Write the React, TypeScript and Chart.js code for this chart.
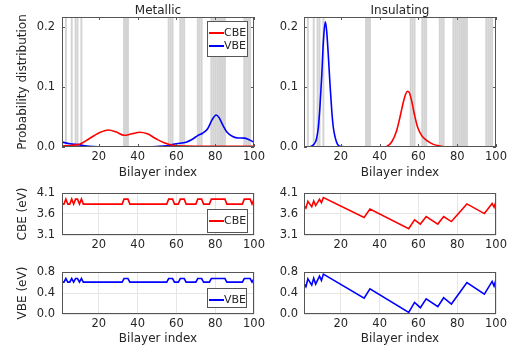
import React, { useEffect, useRef } from 'react';
import { Chart, registerables } from 'chart.js';

Chart.register(...registerables);

const FONT_FAMILY = '"DejaVu Sans", Verdana, sans-serif';
const TEXT = '#262626';
const RED = '#ff0000';
const BLUE = '#0000ff';

// ---------- data ----------
const layerCount = 100;
const xTicks = [20, 40, 60, 80, 100];
const probTicks = [0, 0.1, 0.2];
const cbeTicks = [3.1, 3.6, 4.1];
const vbeTicks = [0.0, 0.4, 0.8];

// bilayers shaded grey (barrier layers)
const barrierLayers = [3, 6, 8, 9, 11, 33, 34, 35, 56, 57, 58, 62, 63, 64, 71, 72, 73, 78, 79, 80, 81, 82, 83, 84, 85, 95, 96, 97, 98, 100];

// Metallic: probability distributions
const metCbeProbX = [1, 5, 10, 15, 20, 25, 29, 33, 37, 41, 45, 49.5, 54, 58, 65, 75, 90, 100];
const metCbeProbY = [0.0016, 0.0025, 0.0045, 0.0137, 0.0235, 0.0285, 0.025, 0.0195, 0.022, 0.0245, 0.022, 0.0137, 0.0066, 0.003, 0.0016, 0.001, 0.001, 0.001];
const metVbeProbX = [1, 5, 10, 15, 20, 30, 45, 50, 55, 60, 65, 68, 71, 73.5, 76, 78.5, 80.5, 82, 84, 86, 89, 92, 95, 97.5, 100];
const metVbeProbY = [0.0082, 0.0055, 0.0035, 0.001, 0.0003, 0.0001, 0.0002, 0.0008, 0.002, 0.0055, 0.008, 0.0125, 0.019, 0.023, 0.03, 0.046, 0.0535, 0.049, 0.036, 0.025, 0.0175, 0.015, 0.0148, 0.012, 0.008];

// Insulating: probability distributions
const insVbeProbX = [1, 4, 6, 7.4, 8.4, 9.2, 10.1, 11, 12, 12.7, 13.5, 14.4, 15.3, 16.1, 17, 18.3, 20, 25, 100];
const insVbeProbY = [0, 0.0003, 0.004, 0.013, 0.033, 0.066, 0.116, 0.177, 0.209, 0.193, 0.155, 0.105, 0.061, 0.033, 0.017, 0.0044, 0.0006, 0, 0];
const insCbeProbX = [1, 40, 43.6, 46.2, 48.8, 50.5, 52.2, 53.4, 54.4, 55.3, 56.5, 57.9, 59.6, 61.7, 64.2, 67.7, 71, 75, 100];
const insCbeProbY = [0, 0, 0.001, 0.0083, 0.0276, 0.05, 0.0746, 0.088, 0.093, 0.091, 0.077, 0.055, 0.033, 0.019, 0.011, 0.0044, 0.0017, 0.0002, 0];

// Metallic: band edge levels (eV)
const metCbeLow = 3.835;
const metCbeHigh = 3.955;
const metVbeLow = 0.607;
const metVbeHigh = 0.676;

// Insulating: band edges at breakpoints (eV)
const insX = [1, 2, 3, 5, 6, 7, 9, 10, 11, 32, 35, 55, 58, 61, 64, 70, 73, 77, 85, 94, 98, 99, 100];
const insCbe = [3.8, 3.74, 3.9, 3.77, 3.91, 3.8, 3.95, 3.87, 3.99, 3.52, 3.72, 3.25, 3.46, 3.36, 3.54, 3.36, 3.54, 3.42, 3.84, 3.61, 3.85, 3.76, 3.9];
const insVbe = [0.58, 0.52, 0.67, 0.55, 0.68, 0.57, 0.72, 0.64, 0.76, 0.3, 0.48, 0.03, 0.22, 0.12, 0.29, 0.14, 0.31, 0.19, 0.6, 0.38, 0.62, 0.53, 0.66];

// ---------- helpers ----------
const zip = (xs: number[], ys: number[]) => xs.map((x, i) => ({ x, y: ys[i] }));
const layers = Array.from({ length: layerCount }, (_, i) => i + 1);
const stepSeries = (low: number, high: number) =>
  layers.map((k) => ({ x: k, y: barrierLayers.includes(k) ? high : low }));

const bandsPlugin = {
  id: 'bands',
  beforeDatasetsDraw(chart: any, _args: any, opts: any) {
    if (!opts || !opts.show) return;
    const { ctx, chartArea, scales } = chart;
    const { top, bottom, left, right } = chartArea;
    ctx.save();
    ctx.beginPath();
    ctx.rect(left, top, right - left, bottom - top);
    ctx.clip();
    ctx.fillStyle = '#d3d3d3';
    for (const k of barrierLayers) {
      const x0 = scales.x.getPixelForValue(k - 0.5);
      const x1 = scales.x.getPixelForValue(k + 0.5);
      ctx.fillRect(x0, top, x1 - x0, bottom - top);
    }
    ctx.restore();
  },
};

const framePlugin = {
  id: 'frame',
  afterDatasetsDraw(chart: any, _args: any, opts: any) {
    const { ctx, chartArea, scales } = chart;
    const { top, bottom, left, right } = chartArea;
    ctx.save();
    ctx.strokeStyle = '#555';
    ctx.lineWidth = 1;
    ctx.strokeRect(Math.round(left) + 0.5, Math.round(top) + 0.5, Math.round(right - left) - 1, Math.round(bottom - top) - 1);
    if (opts && opts.innerTicks) {
      ctx.beginPath();
      for (const v of xTicks) {
        const px = Math.round(scales.x.getPixelForValue(v)) + 0.5;
        ctx.moveTo(px, top);
        ctx.lineTo(px, top + 3);
        ctx.moveTo(px, bottom);
        ctx.lineTo(px, bottom - 3);
      }
      for (const t of scales.y.ticks) {
        const py = Math.round(scales.y.getPixelForValue(t.value)) + 0.5;
        ctx.moveTo(left, py);
        ctx.lineTo(left + 3, py);
        ctx.moveTo(right, py);
        ctx.lineTo(right - 3, py);
      }
      ctx.stroke();
    }
    ctx.restore();
  },
};

type Cfg = {
  datasets: any[];
  yMin: number;
  yMax: number;
  yTicks: number[];
  yTitle?: string;
  yAxisWidth: number;
  yTickPad: number;
  xAxisHeight: number;
  xTitle: boolean;
  xTitlePadBottom?: number;
  padTop: number;
  padRight: number;
  bands: boolean;
  grid: boolean;
};

function makeConfig(c: Cfg): any {
  const tickFont = { family: FONT_FAMILY, size: 11.5 };
  const titleFont = { family: FONT_FAMILY, size: 12 };
  return {
    type: 'line',
    data: { datasets: c.datasets },
    options: {
      animation: false,
      responsive: false,
      devicePixelRatio: 1,
      layout: { padding: { top: c.padTop, right: c.padRight, bottom: 0, left: 0 } },
      plugins: {
        legend: { display: false },
        tooltip: { enabled: false },
        bands: { show: c.bands },
        frame: { innerTicks: c.bands },
      },
      elements: { point: { radius: 0 } },
      scales: {
        x: {
          type: 'linear',
          min: 1,
          max: layerCount,
          afterBuildTicks: (s: any) => {
            s.ticks = xTicks.map((v) => ({ value: v }));
          },
          afterFit: (s: any) => {
            s.height = c.xAxisHeight;
          },
          grid: { display: c.grid, color: '#e6e6e6', drawTicks: false },
          border: { display: false },
          ticks: {
            padding: 3,
            color: TEXT,
            font: tickFont,
            maxRotation: 0,
            autoSkip: false,
            callback: (v: any) => String(v),
          },
          title: {
            display: c.xTitle,
            text: 'Bilayer index',
            color: TEXT,
            font: titleFont,
            padding: { top: 0, bottom: c.xTitlePadBottom ?? 0 },
          },
        },
        y: {
          type: 'linear',
          min: c.yMin,
          max: c.yMax,
          afterBuildTicks: (s: any) => {
            s.ticks = c.yTicks.map((v) => ({ value: v }));
          },
          afterFit: (s: any) => {
            s.width = c.yAxisWidth;
          },
          grid: { display: c.grid, color: '#e6e6e6', drawTicks: false },
          border: { display: false },
          ticks: {
            padding: c.yTickPad,
            color: TEXT,
            font: tickFont,
            callback: (v: any) => Number(v).toFixed(1),
          },
          title: {
            display: !!c.yTitle,
            text: c.yTitle || '',
            color: TEXT,
            font: titleFont,
            padding: { top: 16, bottom: 0 },
          },
        },
      },
    },
    plugins: [bandsPlugin, framePlugin],
  };
}

function ChartPanel(props: { left: number; top: number; width: number; height: number; config: any }) {
  const ref = useRef<HTMLCanvasElement>(null);
  useEffect(() => {
    const chart = new Chart(ref.current as HTMLCanvasElement, props.config);
    return () => chart.destroy();
  }, []);
  return (
    <canvas
      ref={ref}
      width={props.width}
      height={props.height}
      style={{ position: 'absolute', left: props.left, top: props.top, width: props.width, height: props.height }}
    />
  );
}

function LegendBox(props: { left: number; top: number; width: number; height: number; items: { label: string; color: string; y: number }[] }) {
  return (
    <>
      <div
        style={{
          position: 'absolute',
          left: props.left,
          top: props.top,
          width: props.width,
          height: props.height,
          boxSizing: 'border-box',
          border: '1px solid #555',
          background: '#fff',
        }}
      />
      {props.items.map((it) => (
        <React.Fragment key={it.label}>
          <div style={{ position: 'absolute', left: props.left + 2, top: it.y - 1, width: 15, height: 2.4, background: it.color }} />
          <div
            style={{
              position: 'absolute',
              left: props.left + 17,
              top: it.y - 7,
              height: 14,
              lineHeight: '14px',
              fontSize: 11,
              fontFamily: FONT_FAMILY,
              color: TEXT,
              whiteSpace: 'nowrap',
            }}
          >
            {it.label}
          </div>
        </React.Fragment>
      ))}
    </>
  );
}

const lineDs = (label: string, data: any[], color: string, smooth: boolean) => ({
  label,
  data,
  borderColor: color,
  backgroundColor: color,
  borderWidth: 1.6,
  pointRadius: 0,
  fill: false,
  cubicInterpolationMode: smooth ? 'monotone' : 'default',
  tension: 0,
});

export default function App() {
  const leftCol = { left: 0, width: 270, yAxisWidth: 62, padRight: 16, yTickPad: 7 };
  const rightCol = { left: 270, width: 245, yAxisWidth: 34, padRight: 19, yTickPad: 6 };

  const row1 = { top: 0, height: 180, padTop: 17, xAxisHeight: 33 };
  const row2 = { top: 179, height: 73, padTop: 14, xAxisHeight: 17 };
  const row3 = { top: 256, height: 95, padTop: 16, xAxisHeight: 37 };

  const panels = [
    {
      col: leftCol,
      row: row1,
      cfg: {
        datasets: [
          lineDs('CBE', zip(metCbeProbX, metCbeProbY), RED, true),
          lineDs('VBE', zip(metVbeProbX, metVbeProbY), BLUE, true),
        ],
        yMin: 0, yMax: 0.217, yTicks: probTicks, yTitle: 'Probability distribution',
        xTitle: true, xTitlePadBottom: 0, bands: true, grid: false,
      },
    },
    {
      col: rightCol,
      row: row1,
      cfg: {
        datasets: [
          lineDs('CBE', zip(insCbeProbX, insCbeProbY), RED, true),
          lineDs('VBE', zip(insVbeProbX, insVbeProbY), BLUE, true),
        ],
        yMin: 0, yMax: 0.217, yTicks: probTicks,
        xTitle: true, xTitlePadBottom: 0, bands: true, grid: false,
      },
    },
    {
      col: leftCol,
      row: row2,
      cfg: {
        datasets: [lineDs('CBE', stepSeries(metCbeLow, metCbeHigh), RED, false)],
        yMin: 3.1, yMax: 4.1, yTicks: cbeTicks, yTitle: 'CBE (eV)',
        xTitle: false, bands: false, grid: true,
      },
    },
    {
      col: rightCol,
      row: row2,
      cfg: {
        datasets: [lineDs('CBE', zip(insX, insCbe), RED, false)],
        yMin: 3.1, yMax: 4.1, yTicks: cbeTicks,
        xTitle: false, bands: false, grid: true,
      },
    },
    {
      col: leftCol,
      row: row3,
      cfg: {
        datasets: [lineDs('VBE', stepSeries(metVbeLow, metVbeHigh), BLUE, false)],
        yMin: 0, yMax: 0.8, yTicks: vbeTicks, yTitle: 'VBE (eV)',
        xTitle: true, xTitlePadBottom: 5, bands: false, grid: true,
      },
    },
    {
      col: rightCol,
      row: row3,
      cfg: {
        datasets: [lineDs('VBE', zip(insX, insVbe), BLUE, false)],
        yMin: 0, yMax: 0.8, yTicks: vbeTicks,
        xTitle: true, xTitlePadBottom: 5, bands: false, grid: true,
      },
    },
  ];

  return (
    <div
      style={{
        position: 'fixed',
        left: 0,
        top: 0,
        width: 515,
        height: 351,
        background: '#fff',
        overflow: 'hidden',
        fontFamily: FONT_FAMILY,
      }}
    >
      {panels.map((p, i) => (
        <ChartPanel
          key={i}
          left={p.col.left}
          top={p.row.top}
          width={p.col.width}
          height={p.row.height}
          config={makeConfig({
            ...(p.cfg as any),
            yAxisWidth: p.col.yAxisWidth,
            yTickPad: p.col.yTickPad,
            padRight: p.col.padRight,
            padTop: p.row.padTop,
            xAxisHeight: p.row.xAxisHeight,
          })}
        />
      ))}
      <div style={{ position: 'absolute', left: 58, width: 200, top: 3, textAlign: 'center', fontSize: 12, lineHeight: '14px', color: TEXT }}>
        Metallic
      </div>
      <div style={{ position: 'absolute', left: 300, width: 200, top: 3, textAlign: 'center', fontSize: 12, lineHeight: '14px', color: TEXT }}>
        Insulating
      </div>
      <LegendBox
        left={207}
        top={21}
        width={41}
        height={36}
        items={[
          { label: 'CBE', color: RED, y: 33 },
          { label: 'VBE', color: BLUE, y: 46 },
        ]}
      />
      <LegendBox left={207} top={209} width={41} height={24} items={[{ label: 'CBE', color: RED, y: 221 }]} />
      <LegendBox left={207} top={288} width={40} height={20} items={[{ label: 'VBE', color: BLUE, y: 300 }]} />
    </div>
  );
}
